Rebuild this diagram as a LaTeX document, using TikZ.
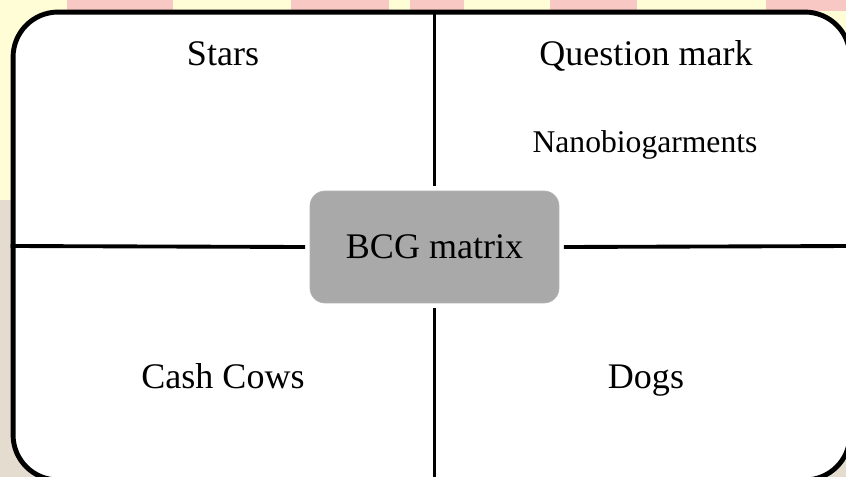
\documentclass[tikz,border=0pt]{standalone}
\usepackage{fontspec}
\setmainfont{Liberation Serif}
\usepackage{xcolor}
\definecolor{bgyellow}{HTML}{FFFDD6}
\definecolor{bgbeige}{HTML}{E3DCCF}
\definecolor{bgpink}{HTML}{F8C8C4}
\definecolor{boxgray}{HTML}{A9A9A9}

\tikzset{
  frame/.style={draw, line width=2.8pt, fill=white, rounded corners=0.9cm,
    minimum width=16.74cm, minimum height=9.36cm},
  centre/.style={draw=gray!60, fill=boxgray, rounded corners=0.3cm,
    minimum width=4.98cm, minimum height=2.24cm, outer sep=0.1cm},
  label/.style={anchor=base, font=\fontsize{20.5}{24}\selectfont},
  divider/.style={line width=2.2pt}
}

\begin{document}
\begin{tikzpicture}[x=0.02cm, y=-0.02cm]
  \clip (0,0) rectangle (846,477);
  % sfondo
  \fill[bgyellow] (0,0) rectangle (846,477);
  \fill[bgbeige] (0,200) rectangle (846,477);
  \foreach \a/\b in {67/173, 291/389, 410/464, 550/637, 766/846}
    \fill[bgpink] (\a,0) rectangle (\b,11);
  % riquadro
  \node[frame] (frame) at (431.5,246) {};
  \node[centre, label, anchor=center] (bcg) at (434.5,247) {BCG matrix};
  % divisori
  \draw[divider] (bcg.north) -- (bcg.north |- frame.north);
  \draw[divider] (bcg.south) -- (bcg.south |- frame.south);
  \draw[divider] (bcg.west) -- (frame.west);
  \draw[divider] (bcg.east) -- (frame.east);
  % quadranti
  \node[label] (stars) at (223,65) {Stars};
  \node[label] (question) at (646,65) {Question mark};
  \node[label, font=\fontsize{18}{22}\selectfont] (nano) at (645,152) {Nanobiogarments};
  \node[label] (cash) at (223,388) {Cash Cows};
  \node[label] (dogs) at (646,388) {Dogs};
\end{tikzpicture}
\end{document}
